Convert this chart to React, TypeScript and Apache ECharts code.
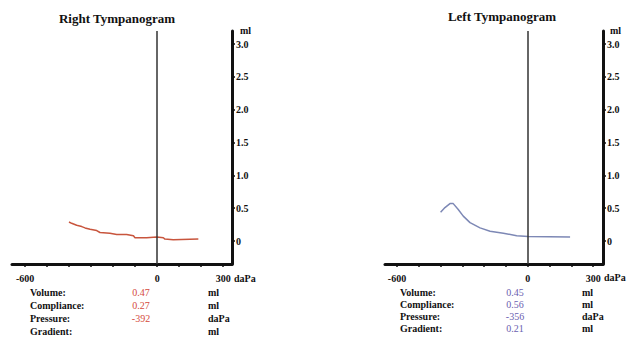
import React, { useEffect, useRef } from "react";
import * as echarts from "echarts";

// Right ear (left panel)
const rightPressure = [-401, -389, -366, -343, -328, -305, -275, -260, -215, -184, -139, -108, -101, -48, -2, 28, 35, 73, 187];
const rightCompliance = [0.29, 0.27, 0.24, 0.22, 0.2, 0.18, 0.16, 0.13, 0.12, 0.1, 0.1, 0.08, 0.05, 0.05, 0.06, 0.05, 0.03, 0.02, 0.03];
// Left ear (right panel)
const leftPressure = [-400, -380, -357, -342, -319, -296, -265, -219, -173, -112, -51, 2, 194];
const leftCompliance = [0.44, 0.51, 0.57, 0.57, 0.48, 0.38, 0.28, 0.2, 0.15, 0.12, 0.08, 0.07, 0.06];

const xTickValues = [-600, -500, -400, -300, -200, -100, 0, 100, 200, 300];
const xLabelValues = [-600, 0, 300];
const yTickValues = [0, 0.5, 1.0, 1.5, 2.0, 2.5, 3.0];

const infoLabels = ["Volume:", "Compliance:", "Pressure:", "Gradient:"];
const infoUnits = ["ml", "ml", "daPa", "ml"];
const rightEarValues = ["0.47", "0.27", "-392", ""];
const leftEarValues = ["0.45", "0.56", "-356", "0.21"];

const FONT = "'Liberation Serif', 'DejaVu Serif', serif";

export default function App() {
  const ref = useRef<HTMLDivElement>(null);
  useEffect(() => {
    if (!ref.current) return;
    const chart = echarts.init(ref.current, undefined, { renderer: "svg" });
    const xAxis = (gridIndex: number, min: number, max: number) => ({
      type: "value",
      gridIndex,
      min,
      max,
      position: "bottom",
      splitLine: { show: false },
      axisLine: { show: true, onZero: false, lineStyle: { color: "#111", width: 3 } },
      axisTick: { show: true, customValues: xTickValues, length: 3, lineStyle: { color: "#111", width: 1.5 } },
      axisLabel: {
        customValues: xLabelValues,
        margin: 9,
        fontFamily: FONT,
        fontWeight: "bold",
        fontSize: 10,
        color: "#111",
      },
    });
    const yAxis = (gridIndex: number) => ({
      type: "value",
      gridIndex,
      min: -0.35,
      max: 3.2,
      position: "right",
      splitLine: { show: false },
      axisLine: { show: true, onZero: false, lineStyle: { color: "#111", width: 3 } },
      axisTick: { show: true, customValues: yTickValues, length: 3, lineStyle: { color: "#111", width: 1.5 } },
      axisLabel: {
        customValues: yTickValues,
        margin: 4,
        fontFamily: FONT,
        fontWeight: "bold",
        fontSize: 10,
        color: "#111",
        formatter: (v: number) => (v === 0 ? "0" : v.toFixed(1)),
      },
    });
    const zeroLine = {
      silent: true,
      symbol: "none",
      label: { show: false },
      lineStyle: { color: "#333", width: 1.5, type: "solid" },
      data: [{ xAxis: 0 }],
    };
    const infoTexts: any[] = [];
    const addInfo = (lx: number, vx: number, ux: number, values: string[], color: string, ys: number[]) => {
      infoLabels.forEach((t, i) => {
        infoTexts.push({ type: "text", x: lx, y: ys[i], style: { text: t, font: `bold 10px ${FONT}`, fill: "#111", verticalAlign: "middle" } });
        if (values[i]) infoTexts.push({ type: "text", x: vx, y: ys[i], style: { text: values[i], font: `10px ${FONT}`, fill: color, align: "center", verticalAlign: "middle" } });
        infoTexts.push({ type: "text", x: ux, y: ys[i], style: { text: infoUnits[i], font: `bold 10px ${FONT}`, fill: "#111", verticalAlign: "middle" } });
      });
    };
    addInfo(30, 141, 208, rightEarValues, "#d44a3c", [292, 305, 318, 331]);
    addInfo(400, 515, 582, leftEarValues, "#6a60b0", [292, 304, 316, 328]);

    chart.setOption({
      animation: false,
      backgroundColor: "#fff",
      grid: [
        { left: 12, top: 31, width: 220, height: 233 },
        { left: 385, top: 31, width: 218, height: 233 },
      ],
      xAxis: [xAxis(0, -660, 340), xAxis(1, -655, 345)],
      yAxis: [yAxis(0), yAxis(1)],
      graphic: [
        { type: "text", x: 117, y: 18, style: { text: "Right Tympanogram", font: `bold 13px ${FONT}`, fill: "#111", align: "center", verticalAlign: "middle" } },
        { type: "text", x: 502, y: 16, style: { text: "Left Tympanogram", font: `bold 13px ${FONT}`, fill: "#111", align: "center", verticalAlign: "middle" } },
        { type: "text", x: 240, y: 30, style: { text: "ml", font: `bold 10px ${FONT}`, fill: "#111", verticalAlign: "middle" } },
        { type: "text", x: 610, y: 30, style: { text: "ml", font: `bold 10px ${FONT}`, fill: "#111", verticalAlign: "middle" } },
        { type: "text", x: 234, y: 278, style: { text: "daPa", font: `bold 10px ${FONT}`, fill: "#111", verticalAlign: "middle" } },
        { type: "text", x: 604, y: 277, style: { text: "daPa", font: `bold 10px ${FONT}`, fill: "#111", verticalAlign: "middle" } },
        ...infoTexts,
      ],
      series: [
        {
          type: "line",
          xAxisIndex: 0,
          yAxisIndex: 0,
          data: rightPressure.map((p, i) => [p, rightCompliance[i]]),
          symbol: "none",
          lineStyle: { color: "#c8553d", width: 1.5 },
          markLine: zeroLine,
        },
        {
          type: "line",
          xAxisIndex: 1,
          yAxisIndex: 1,
          data: leftPressure.map((p, i) => [p, leftCompliance[i]]),
          symbol: "none",
          lineStyle: { color: "#7d88b5", width: 1.5 },
          markLine: zeroLine,
        },
      ],
    });
    return () => chart.dispose();
  }, []);
  return <div ref={ref} style={{ width: 631, height: 338, position: "absolute", left: 0, top: 0 }} />;
}
